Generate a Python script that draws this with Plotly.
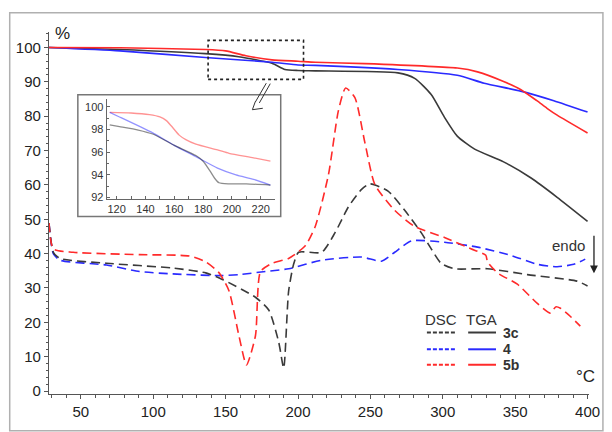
import plotly.graph_objects as go

# ---------------- data ----------------
# TGA (solid), % mass
tga_3c_x = [28, 77, 136, 159, 182, 191, 200, 212, 269, 280.6, 292, 301, 310, 322, 342, 361, 379, 400]
tga_3c_y = [100, 99.4, 98.2, 97.3, 95.4, 93.6, 93.3, 93.2, 92.6, 91.0, 86.3, 79.8, 74.2, 70.4, 66.7, 62.0, 56.4, 49.4]

tga_4_x = [28, 77, 136, 182, 200, 212, 269, 310, 328.6, 353.8, 376.7, 400]
tga_4_y = [100, 99.0, 97.1, 95.7, 94.9, 94.8, 93.6, 91.9, 89.6, 87.3, 84.5, 81.2]

tga_5b_x = [28, 77, 136, 150, 164, 182, 200, 212, 246, 310, 324, 342, 354, 365, 372, 379, 400]
tga_5b_y = [100, 99.9, 99.4, 99.0, 97.6, 96.4, 96.0, 95.7, 95.3, 94.0, 92.9, 90.1, 87.7, 84.5, 82.3, 80.3, 75.1]

# DSC (dashed), arbitrary units on the same axis
dsc_3c_x = [28, 31, 35.6, 67.7, 113.4, 136.3, 147.7, 170.6, 179.8, 186.7, 190.1, 193.5, 197, 200.4, 216.4,
            225.6, 234.8, 243.9, 249.7, 262.2, 273.7, 285.1, 292, 298.8, 308, 330.9, 358.4, 392.7, 400]
dsc_3c_y = [48.9, 40.4, 38.6, 37.2, 35.8, 34.4, 32.5, 27.3, 23.6, 14.2, 6.7, 29.0, 37.0, 40.4, 40.4,
            46.1, 53.6, 58.7, 60.3, 58.2, 52.6, 46.1, 41.4, 37.2, 35.6, 35.6, 33.9, 32.0, 30.6]

dsc_4_x = [28, 31, 35.6, 67.7, 90.5, 113.4, 146.6, 159.2, 177.5, 193.5, 216.4, 243.9, 257.6, 266.8, 278.2,
           301.2, 324, 346.9, 365.3, 379, 390.5, 398.4]
dsc_4_y = [48.9, 40.0, 38.1, 36.7, 34.8, 34.1, 33.6, 33.9, 34.8, 35.6, 38.1, 39.0, 37.8, 40.4, 43.7,
           43.3, 41.9, 39.5, 36.9, 36.2, 36.9, 38.4]

dsc_5b_x = [28, 31, 44.7, 90.5, 124.9, 136.3, 145.5, 152.3, 159.2, 164.4, 170.6, 174.1, 182.1, 193.5, 205,
            211.9, 221, 227.9, 232.9, 239.3, 246.2, 253.1, 266.8, 280.6, 301.2, 319.4, 329.7, 330.9, 337.8,
            351.5, 365.3, 374.4, 378, 381.3, 388.2, 395]
dsc_5b_y = [48.9, 41.4, 40.4, 39.7, 39.3, 37.6, 34.4, 29.2, 16.1, 7.6, 16.1, 34.8, 37.2, 38.6, 42.3,
            47.9, 62.9, 81.6, 88.2, 85.4, 72.3, 60.1, 52.6, 47.9, 44.7, 41.4, 39.5, 37.6, 34.4,
            31.1, 25.5, 22.7, 24.5, 24.1, 21.7, 18.9]

# inset (zoom of TGA 115-227 degC)
ins_3c_x = [115.2, 122, 135, 145, 160, 175, 180, 185, 188, 191, 198, 210, 226.7]
ins_3c_y = [98.4, 98.25, 97.95, 97.6, 96.6, 95.7, 95.2, 94.3, 93.7, 93.3, 93.2, 93.2, 93.1]
ins_4_x = [115.2, 122, 145, 160, 175, 190, 202.8, 215, 226.7]
ins_4_y = [99.5, 99.1, 97.7, 96.6, 95.6, 94.6, 94.0, 93.6, 93.1]
ins_5b_x = [115.2, 130, 142.8, 150, 154.3, 158, 163.4, 168, 175, 190, 198, 215, 226.7]
ins_5b_y = [99.5, 99.45, 99.3, 99.1, 98.8, 98.3, 97.5, 97.1, 96.7, 96.2, 95.9, 95.5, 95.2]

series_names = ["3c", "4", "5b"]
x_ticks = [50, 100, 150, 200, 250, 300, 350, 400]
y_ticks = [0, 10, 20, 30, 40, 50, 60, 70, 80, 90, 100]
inset_x_ticks = [120, 140, 160, 180, 200, 220]
inset_y_ticks = [92, 94, 96, 98, 100]

# ---------------- styling ----------------
C_BLACK = "#3a3a3a"
C_BLUE = "#2a2aff"
C_RED = "#ff2a2a"
FONT = "Liberation Sans, Arial, sans-serif"

W, H = 612, 432
ML, MR, MT, MB = 49, 20, 32, 25
PW, PH = W - ML - MR, H - MT - MB


def PX(px):
    return (px - ML) / PW


def PY(py):
    return (H - MB - py) / PH


fig = go.Figure()

dash = "9px,5px"
for xs, ys, c, n in [(dsc_4_x, dsc_4_y, C_BLUE, "4"), (dsc_3c_x, dsc_3c_y, C_BLACK, "3c"),
                     (dsc_5b_x, dsc_5b_y, C_RED, "5b")]:
    fig.add_trace(go.Scatter(x=xs, y=ys, mode="lines", name="DSC " + n, showlegend=False,
                             line=dict(color=c, width=1.6, dash=dash, shape="spline", smoothing=0.6)))

for xs, ys, c, n in [(tga_3c_x, tga_3c_y, C_BLACK, "3c"), (tga_4_x, tga_4_y, C_BLUE, "4"),
                     (tga_5b_x, tga_5b_y, C_RED, "5b")]:
    fig.add_trace(go.Scatter(x=xs, y=ys, mode="lines", name="TGA " + n, showlegend=False,
                             line=dict(color=c, width=1.6, shape="spline", smoothing=0.6)))

for xs, ys, c in [(ins_5b_x, ins_5b_y, "rgba(255,40,40,0.5)"), (ins_4_x, ins_4_y, "rgba(40,40,255,0.5)"),
                  (ins_3c_x, ins_3c_y, "rgba(0,0,0,0.45)")]:
    fig.add_trace(go.Scatter(x=xs, y=ys, mode="lines", showlegend=False, xaxis="x2", yaxis="y2",
                             line=dict(color=c, width=1.3, shape="spline", smoothing=0.6)))

axis_common = dict(showgrid=False, zeroline=False, showline=True, linecolor="#555", linewidth=1.3,
                   ticks="outside", tickcolor="#555", tickfont=dict(family=FONT, size=15, color="#222"))

fig.update_layout(
    width=W, height=H, margin=dict(l=ML, r=MR, t=MT, b=MB),
    paper_bgcolor="white", plot_bgcolor="white", showlegend=False,
    xaxis=dict(range=[28, 401], tickvals=x_ticks, ticklen=4, tickwidth=1,
               minor=dict(dtick=10, tick0=0, ticklen=3, ticks="outside", tickcolor="#555"),
               **axis_common),
    yaxis=dict(range=[-0.85, 104.5], tickvals=y_ticks, ticklen=4, tickwidth=1,
               minor=dict(dtick=2, tick0=0, ticklen=2, ticks="outside", tickcolor="#555"),
               **axis_common),
    xaxis2=dict(domain=[PX(107), PX(276)], anchor="y2", range=[113.1, 229.7], tickvals=inset_x_ticks,
                showgrid=False, zeroline=False, showline=True, linecolor="#666", linewidth=1,
                ticks="inside", ticklen=3, tickcolor="#666",
                minor=dict(dtick=10, tick0=0, ticklen=3, ticks="inside", tickcolor="#666"),
                tickfont=dict(family=FONT, size=11, color="#333")),
    yaxis2=dict(domain=[PY(205), PY(101.7)], anchor="x2", range=[91.87, 100.66], tickvals=inset_y_ticks,
                showgrid=False, zeroline=False, showline=True, linecolor="#666", linewidth=1,
                ticks="inside", ticklen=3, tickcolor="#666",
                minor=dict(dtick=1, tick0=0, ticklen=2, ticks="inside", tickcolor="#666"),
                tickfont=dict(family=FONT, size=11, color="#333")),
)

shapes = []
# outer frame of the picture
shapes.append(dict(type="rect", xref="paper", yref="paper", x0=PX(9.5), x1=PX(606), y0=PY(445), y1=PY(12),
                   line=dict(color="#b0b0b0", width=1.5), layer="below"))
# inset frame
shapes.append(dict(type="rect", xref="paper", yref="paper", x0=PX(78), x1=PX(282), y0=PY(223), y1=PY(97),
                   line=dict(color="#777", width=1.5), fillcolor="rgba(0,0,0,0)"))
# dotted zoom region on the main chart
shapes.append(dict(type="rect", xref="x", yref="y", x0=137.9, x1=203.8, y0=90.7, y1=102.05,
                   line=dict(color="#222", width=1.6, dash="dot")))
# double-shaft arrow towards the inset
for (a, b, c, d) in [(267.5, 85, 256.5, 104.5), (271.5, 85.5, 260.5, 105.5)]:
    shapes.append(dict(type="line", xref="paper", yref="paper", x0=PX(a), y0=PY(b), x1=PX(c), y1=PY(d),
                       line=dict(color="#333", width=1)))
shapes.append(dict(type="path", xref="paper", yref="paper",
                   path="M {} {} L {} {} L {} {}".format(PX(256.5), PY(104), PX(253.5), PY(112.5),
                                                          PX(264), PY(111)),
                   line=dict(color="#333", width=1)))
# legend samples
rows = [343.3, 360.7, 376.7]
colors = [C_BLACK, C_BLUE, C_RED]
for r, c in zip(rows, colors):
    shapes.append(dict(type="line", xref="paper", yref="paper", x0=PX(429), x1=PX(458.5), y0=PY(r), y1=PY(r),
                       line=dict(color=c, width=2, dash="4px,2px")))
    shapes.append(dict(type="line", xref="paper", yref="paper", x0=PX(470.5), x1=PX(498.5), y0=PY(r), y1=PY(r),
                       line=dict(color=c, width=2)))
fig.update_layout(shapes=shapes)

ann = []
ann.append(dict(text="DSC", x=PX(443.5), y=PY(329.5), xref="paper", yref="paper", showarrow=False,
                font=dict(family=FONT, size=15, color="#333"), xanchor="center", yanchor="middle"))
ann.append(dict(text="TGA", x=PX(483.5), y=PY(329.5), xref="paper", yref="paper", showarrow=False,
                font=dict(family=FONT, size=15, color="#333"), xanchor="center", yanchor="middle"))
for r, n in zip(rows, series_names):
    ann.append(dict(text="<b>" + n + "</b>", x=PX(504), y=PY(r), xref="paper", yref="paper", showarrow=False,
                    font=dict(family=FONT, size=14, color="#333"), xanchor="left", yanchor="middle"))
ann.append(dict(text="%", x=PX(62.5), y=PY(33.5), xref="paper", yref="paper", showarrow=False,
                font=dict(family=FONT, size=17, color="#222"), xanchor="center", yanchor="middle"))
ann.append(dict(text="°C", x=PX(588), y=PY(388.5), xref="paper", yref="paper", showarrow=False,
                font=dict(family=FONT, size=17, color="#222"), xanchor="center", yanchor="middle"))
ann.append(dict(text="endo", x=PX(571.5), y=PY(253.5), xref="paper", yref="paper", showarrow=False,
                font=dict(family=FONT, size=15, color="#333"), xanchor="center", yanchor="middle"))
ann.append(dict(text="", x=PX(597), y=PY(282), xref="paper", yref="paper", showarrow=True,
                ax=0, ay=-39, arrowhead=2, arrowsize=1.2, arrowwidth=1.3, arrowcolor="#222"))
fig.update_layout(annotations=ann)

fig.write_html("out.html", config={"displayModeBar": False},
               post_script="document.body.style.margin='0px';document.body.style.overflow='hidden';")
